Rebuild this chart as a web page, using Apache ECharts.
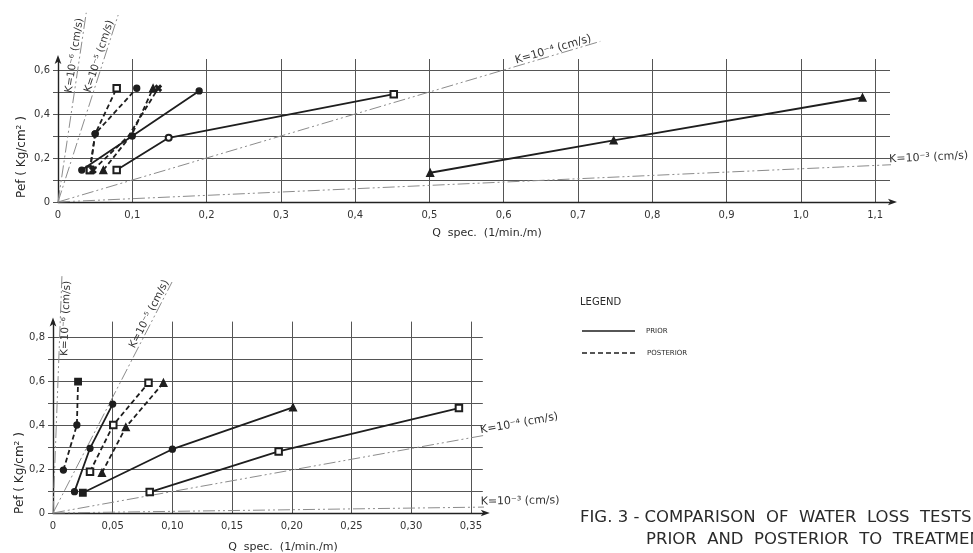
<!DOCTYPE html>
<html><head><meta charset="utf-8">
<script src="https://cdn.jsdelivr.net/npm/echarts@6/dist/echarts.min.js"></script>
<style>html,body{margin:0;padding:0;background:#fff}#c{width:973px;height:553px}</style>
</head><body><div id="c"></div>
<script>
// ---------------- DATA ----------------
// tick labels
const topXLabels = ['0','0,1','0,2','0,3','0,4','0,5','0,6','0,7','0,8','0,9','1,0','1,1'];
const topYLabels = ['0','','0,2','','0,4','','0,6'];
const botXLabels = ['0','0,05','0,10','0,15','0,20','0,25','0,30','0,35'];
const botYLabels = ['0','','0,2','','0,4','','0,6','','0,8'];

// top chart: [Q spec (l/min/m), Pef (kg/cm2)]
const topPriorA = [[0.032,0.145],[0.10,0.30],[0.19,0.505]];
const topPriorB = [[0.079,0.145],[0.149,0.292],[0.452,0.49]];
const topPriorC = [[0.501,0.133],[0.748,0.28],[1.083,0.475]];
const topPostA  = [[0.043,0.145],[0.05,0.31],[0.079,0.517]];
const topPostB  = [[0.043,0.145],[0.05,0.31],[0.106,0.517]];
const topPostC  = [[0.047,0.145],[0.095,0.30],[0.135,0.517]];
const topPostD  = [[0.061,0.145],[0.10,0.31],[0.128,0.517]];
// top permeability reference lines
const topK6 = [[0,0],[0.038,0.86]];
const topK5 = [[0,0],[0.081,0.85]];
const topK4 = [[0,0],[0.73,0.73]];
const topK3 = [[0,0],[1.225,0.185]];

// bottom chart
const botPriorA = [[0.018,0.097],[0.031,0.294],[0.050,0.495]];
const botPriorB = [[0.025,0.092],[0.10,0.29],[0.201,0.48]];
const botPriorC = [[0.081,0.095],[0.189,0.28],[0.34,0.477]];
const botPostA  = [[0.0087,0.195],[0.020,0.40],[0.021,0.597]];
const botPostB  = [[0.031,0.188],[0.0505,0.40],[0.080,0.592]];
const botPostC  = [[0.041,0.183],[0.061,0.39],[0.0925,0.592]];
const botK6 = [[0,0],[0.0075,1.08]];
const botK5 = [[0,0],[0.0997,1.05]];
const botK4 = [[0,0],[0.43,0.42]];
const botK3 = [[0,0],[0.43,0.032]];

const kLabels = ['K=10\u207B\u2076 (cm/s)','K=10\u207B\u2075 (cm/s)','K=10\u207B\u2074 (cm/s)','K=10\u207B\u00B3 (cm/s)'];

// ---------------- CHART ----------------
const INK = '#1e1e1e';
const GRIDC = '#555';
const FONT = "'DejaVu Sans', sans-serif";
const CROSS = 'path://M2,0L5,3L8,0L10,2L7,5L10,8L8,10L5,7L2,10L0,8L3,5L0,2Z';

function fmt(labels, step) {
  return v => { const i = Math.round(v / step); return Math.abs(v - i * step) < 1e-6 ? (labels[i] || '') : ''; };
}
function symSize(s) { return s.indexOf('triangle') >= 0 ? 7 : (s.indexOf('Rect') >= 0 || s === 'rect') ? 6.5 : 6; }
function dataSeries(data, grid, dashed, syms) {
  return {
    type: 'line', xAxisIndex: grid, yAxisIndex: grid, z: 5, silent: true, animation: false,
    data: data.map((p, i) => ({ value: p, symbol: syms[i], symbolSize: symSize(syms[i]) })),
    lineStyle: { color: INK, width: 1.8, type: dashed ? [5, 3] : 'solid' },
    itemStyle: { color: INK, borderColor: INK, borderWidth: 1.3 },
    showAllSymbol: true
  };
}
function kSeries(data, grid) {
  return {
    type: 'line', xAxisIndex: grid, yAxisIndex: grid, z: 3, silent: true, animation: false,
    clip: false, symbol: 'none', data: data,
    lineStyle: { color: '#8c8c8c', width: 1, type: [12, 3, 2, 3, 2, 3] }
  };
}
function xAxis(grid, max, step, labels) {
  return {
    type: 'value', gridIndex: grid, min: 0, max: max, interval: step,
    axisLine: { show: true, onZero: false, lineStyle: { color: '#222', width: 1.4 }, symbol: ['none', 'arrow'], symbolSize: [5, 9], symbolOffset: [0, 7] },
    axisTick: { show: false },
    axisLabel: { formatter: fmt(labels, step), fontSize: 10, fontFamily: FONT, color: '#333', margin: 8, showMaxLabel: false, showMinLabel: true },
    splitLine: { show: true, showMinLine: false, showMaxLine: false, lineStyle: { color: GRIDC, width: 1 } }
  };
}
function yAxis(grid, max, step, labels) {
  return {
    type: 'value', gridIndex: grid, min: 0, max: max, interval: step,
    axisLine: { show: true, onZero: false, lineStyle: { color: '#222', width: 1.4 }, symbol: ['none', 'arrow'], symbolSize: [5, 9], symbolOffset: [0, 4] },
    axisTick: { show: true, length: 5, lineStyle: { color: GRIDC } },
    axisLabel: { formatter: fmt(labels, step), fontSize: 10, fontFamily: FONT, color: '#333', margin: 8, showMaxLabel: false },
    splitLine: { show: true, showMinLine: false, showMaxLine: false, lineStyle: { color: GRIDC, width: 1 } }
  };
}

const chart = echarts.init(document.getElementById('c'), null, { renderer: 'canvas' });
const option = {
  backgroundColor: '#ffffff',
  animation: false,
  grid: [
    { left: 58, top: 59, width: 832, height: 143 },
    { left: 53, top: 321.6, width: 429.8, height: 191.4 }
  ],
  xAxis: [xAxis(0, 1.12, 0.1, topXLabels), xAxis(1, 0.36, 0.05, botXLabels)],
  yAxis: [yAxis(0, 0.65, 0.1, topYLabels), yAxis(1, 0.87, 0.1, botYLabels)],
  series: [
    kSeries(topK6, 0), kSeries(topK5, 0), kSeries(topK4, 0), kSeries(topK3, 0),
    kSeries(botK6, 1), kSeries(botK5, 1), kSeries(botK4, 1), kSeries(botK3, 1),
    dataSeries(topPriorA, 0, false, ['circle', 'circle', 'circle']),
    dataSeries(topPriorB, 0, false, ['emptyRect', 'emptyCircle', 'emptyRect']),
    dataSeries(topPriorC, 0, false, ['triangle', 'triangle', 'triangle']),
    dataSeries(topPostA, 0, true, ['emptyRect', 'circle', 'emptyRect']),
    dataSeries(topPostB, 0, true, ['emptyRect', 'circle', 'circle']),
    dataSeries(topPostC, 0, true, [CROSS, 'none', CROSS]),
    dataSeries(topPostD, 0, true, ['triangle', 'none', 'triangle']),
    dataSeries(botPriorA, 1, false, ['circle', 'circle', 'circle']),
    dataSeries(botPriorB, 1, false, ['rect', 'circle', 'triangle']),
    dataSeries(botPriorC, 1, false, ['emptyRect', 'emptyRect', 'emptyRect']),
    dataSeries(botPostA, 1, true, ['circle', 'circle', 'rect']),
    dataSeries(botPostB, 1, true, ['emptyRect', 'emptyRect', 'emptyRect']),
    dataSeries(botPostC, 1, true, ['triangle', 'triangle', 'triangle'])
  ]
};
chart.setOption(option);

// ---- annotations (positioned from the axes) ----
function kText(grid, line, t, text, side, size) {
  const a = chart.convertToPixel({ gridIndex: grid }, line[0]);
  const b = chart.convertToPixel({ gridIndex: grid }, line[1]);
  const px = a[0] + (b[0] - a[0]) * t, py = a[1] + (b[1] - a[1]) * t;
  const ang = Math.atan2(-(b[1] - a[1]), b[0] - a[0]);
  return {
    type: 'text', x: px, y: py, rotation: ang, z: 10, silent: true,
    style: { text: text, fontSize: size || 11, fontFamily: FONT, fill: '#333',
      align: 'center', textAlign: 'center',
      verticalAlign: side === 'below' ? 'top' : 'bottom', textVerticalAlign: side === 'below' ? 'top' : 'bottom' }
  };
}
const T = (x, y, text, size, extra) => Object.assign({ type: 'text', x: x, y: y, silent: true,
  style: Object.assign({ text: text, fontSize: size, fontFamily: FONT, fill: '#2a2a2a', align: 'left', textAlign: 'left', verticalAlign: 'middle', textVerticalAlign: 'middle' }, extra || {}) });

const graphics = [
  kText(0, topK6, 0.77, kLabels[0], null, 10.5),
  kText(0, topK5, 0.77, kLabels[1], null, 10.5),
  kText(0, topK4, 0.916, kLabels[2]),
  kText(0, topK3, 0.957, kLabels[3]),
  kText(1, botK6, 0.82, kLabels[0], 'below', 10.5),
  kText(1, botK5, 0.85, kLabels[1], null, 10.5),
  kText(1, botK4, 0.91, kLabels[2]),
  kText(1, botK3, 0.91, kLabels[3]),
  // axis titles
  Object.assign(T(22, 157, 'Pef ( Kg/cm\u00B2 )', 12, { align: 'center', textAlign: 'center' }), { rotation: Math.PI / 2 }),
  Object.assign(T(20, 473, 'Pef ( Kg/cm\u00B2 )', 12, { align: 'center', textAlign: 'center' }), { rotation: Math.PI / 2 }),
  T(487, 233, 'Q  spec.  (1/min./m)', 11, { align: 'center', textAlign: 'center' }),
  T(283, 547, 'Q  spec.  (1/min./m)', 11, { align: 'center', textAlign: 'center' }),
  // legend
  T(580, 302, 'LEGEND', 10),
  { type: 'line', silent: true, shape: { x1: 582, y1: 331, x2: 635, y2: 331 }, style: { stroke: INK, lineWidth: 1.3 } },
  T(646, 331, 'PRIOR', 7),
  { type: 'line', silent: true, shape: { x1: 582, y1: 353, x2: 638, y2: 353 }, style: { stroke: INK, lineWidth: 1.3, lineDash: [5, 3] } },
  T(647, 353, 'POSTERIOR', 7),
  // caption
  T(580, 518, 'FIG. 3 - COMPARISON  OF  WATER  LOSS  TESTS', 16.5),
  T(646, 540, 'PRIOR  AND  POSTERIOR  TO  TREATMENT', 16.5)
];
chart.setOption({ graphic: graphics });
</script>
</body></html>
